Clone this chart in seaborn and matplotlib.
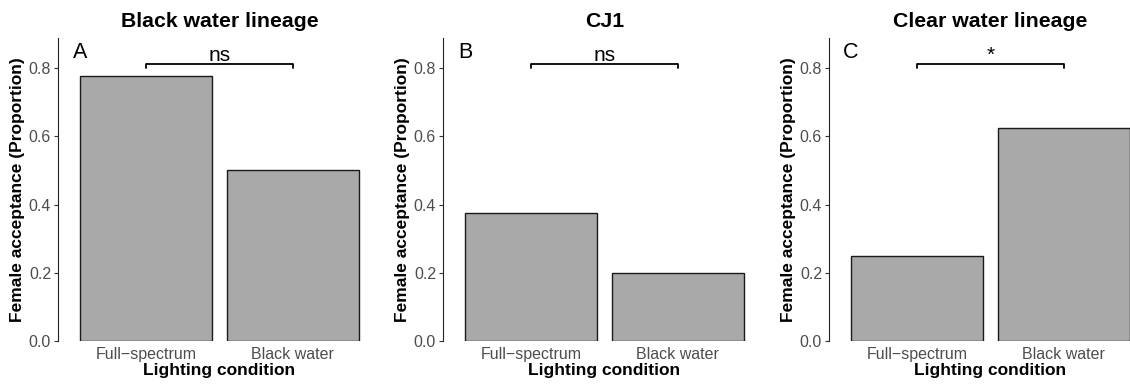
import matplotlib
matplotlib.use("Agg")
import matplotlib.pyplot as plt
import seaborn as sns
import pandas as pd

# ---- data ----
conditions = ["Full\u2212spectrum", "Black water"]
titles = ["Black water lineage", "CJ1", "Clear water lineage"]
panel_letters = ["A", "B", "C"]
black_water_lineage = [0.778, 0.5]
cj1 = [0.375, 0.2]
clear_water_lineage = [0.25, 0.625]
significance = ["ns", "ns", "*"]
y_ticks = [0.0, 0.2, 0.4, 0.6, 0.8]
y_tick_labels = ["0.0", "0.2", "0.4", "0.6", "0.8"]
bracket_y = 0.811
bracket_drop = 0.012
label_y = 0.822
letter_y = 0.845

series = [black_water_lineage, cj1, clear_water_lineage]

sns.set_theme(style="white")
plt.rcParams["font.family"] = ["Liberation Sans", "DejaVu Sans"]
plt.rcParams["text.color"] = "black"

W, H = 1130, 385
fig = plt.figure(figsize=(W / 100, H / 100), dpi=100)

lefts = [58, 443, 829]
top, bottom = 38, 341
pw = 323

for i in range(3):
    left = lefts[i]
    ax = fig.add_axes([left / W, 1 - bottom / H, pw / W, (bottom - top) / H])
    df = pd.DataFrame({"condition": conditions, "value": series[i]})
    sns.barplot(data=df, x="condition", y="value", order=conditions,
                color="#A9A9A9", saturation=1, width=0.9,
                edgecolor="#1a1a1a", linewidth=1.0, ax=ax)
    ax.set_xlim(-0.6, 1.6)
    ax.set_ylim(0, 0.888)
    ax.set_yticks(y_ticks)
    ax.set_yticklabels(y_tick_labels)
    for s in ["top", "right", "bottom"]:
        ax.spines[s].set_visible(False)
    ax.spines["left"].set_color("#222222")
    ax.spines["left"].set_linewidth(0.8)
    ax.tick_params(axis="y", length=3, width=0.8, color="#333333",
                   labelsize=11.5, labelcolor="#4D4D4D", pad=2, left=True)
    ax.tick_params(axis="x", length=0, labelsize=11.5, labelcolor="#4D4D4D", pad=4)
    ax.set_xlabel("Lighting condition", fontsize=12.5, fontweight="bold",
                  color="black", labelpad=1)
    ax.set_ylabel("Female acceptance (Proportion)", fontsize=12.5,
                  fontweight="bold", color="black", labelpad=3)
    ax.set_title(titles[i], fontsize=15.3, fontweight="bold", pad=8, color="black")
    # significance bracket
    ax.plot([0, 0, 1, 1],
            [bracket_y - bracket_drop, bracket_y, bracket_y, bracket_y - bracket_drop],
            color="black", lw=1.3, clip_on=False)
    ax.text(0.5, label_y, significance[i], ha="center", va="baseline",
            fontsize=15, color="black")
    ax.text(-0.45, letter_y, panel_letters[i], ha="center", va="center",
            fontsize=15.5, color="black")

fig.savefig("out.png", dpi=100)
